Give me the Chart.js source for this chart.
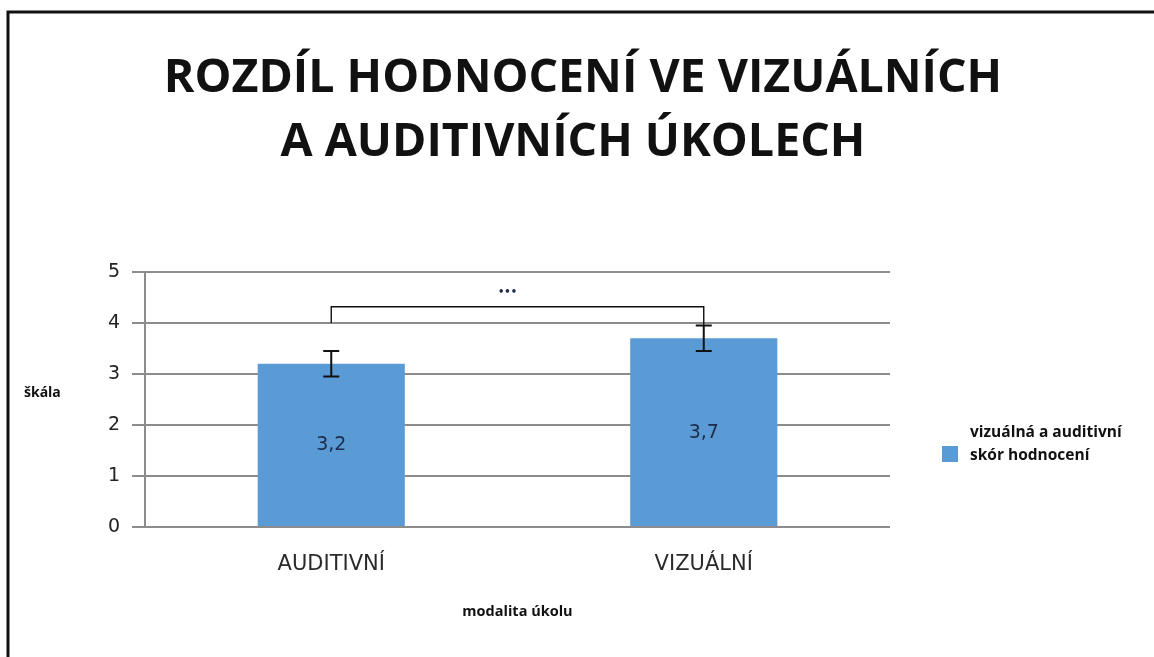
<!DOCTYPE html>
<html lang="cs">
<head>
<meta charset="utf-8">
<script src="https://cdn.jsdelivr.net/npm/chart.js@4.4.1/dist/chart.umd.min.js"></script>
<style>
  html, body { margin: 0; padding: 0; background: #fff; }
  #wrap { position: relative; width: 1154px; height: 657px; }
</style>
</head>
<body>
<div id="wrap"><canvas id="chart-hodnoceni"></canvas></div>
<script>
const categories = ['AUDITIVNÍ', 'VIZUÁLNÍ'];
const scores = [3.2, 3.7];
const errLow = [2.95, 3.45];
const errHigh = [3.45, 3.95];
const yTicks = [0, 1, 2, 3, 4, 5];
const bracketFeet = [4.0, 3.95];
const bracketTop = 4.32;
const titleLines = ['ROZDÍL HODNOCENÍ VE VIZUÁLNÍCH', 'A AUDITIVNÍCH ÚKOLECH'];
const legendLines = ['vizuálná a auditivní', 'skór hodnocení'];

const BAR_COLOR = '#5b9bd5';
const GRID_COLOR = '#8c8c8c';

// extra drawing: frame, title, legend, error bars, bracket, value labels
const annotations = {
  id: 'annotations',
  afterDatasetsDraw(chart) {
    const { ctx, scales: { x, y } } = chart;
    ctx.save();

    // frame (left + top only, like the screenshot)
    ctx.strokeStyle = '#111';
    ctx.lineWidth = 3;
    ctx.beginPath();
    ctx.moveTo(8, 657);
    ctx.lineTo(8, 12);
    ctx.lineTo(1154, 12);
    ctx.stroke();

    // title
    ctx.fillStyle = '#111';
    ctx.textAlign = 'center';
    ctx.textBaseline = 'alphabetic';
    ctx.font = 'bold 46.5px "Open Sans"';
    ctx.fillText(titleLines[0], 583, 92);
    ctx.fillText(titleLines[1], 573, 156);

    // y axis caption, horizontal
    ctx.font = 'bold 14px "Open Sans"';
    ctx.textAlign = 'left';
    ctx.textBaseline = 'middle';
    ctx.fillText('škála', 24, 393);

    // legend
    ctx.fillStyle = BAR_COLOR;
    ctx.fillRect(942, 446, 16, 16);
    ctx.fillStyle = '#111';
    ctx.font = 'bold 15.5px "Open Sans"';
    ctx.fillText(legendLines[0], 970, 433);
    ctx.fillText(legendLines[1], 970, 456);

    // value labels inside bars
    ctx.font = '19px "DejaVu Sans"';
    ctx.fillStyle = '#1c2b4a';
    ctx.textAlign = 'center';
    scores.forEach((v, i) => {
      ctx.fillText(v.toFixed(1).replace('.', ','), x.getPixelForValue(i), y.getPixelForValue(v / 2));
    });

    // error bars
    ctx.strokeStyle = '#111';
    ctx.lineWidth = 2;
    scores.forEach((v, i) => {
      const cx = x.getPixelForValue(i);
      const lo = y.getPixelForValue(errLow[i]);
      const hi = y.getPixelForValue(errHigh[i]);
      ctx.beginPath();
      ctx.moveTo(cx, lo); ctx.lineTo(cx, hi);
      ctx.moveTo(cx - 8, lo); ctx.lineTo(cx + 8, lo);
      ctx.moveTo(cx - 8, hi); ctx.lineTo(cx + 8, hi);
      ctx.stroke();
    });

    // significance bracket
    const x0 = x.getPixelForValue(0);
    const x1 = x.getPixelForValue(1);
    const top = y.getPixelForValue(bracketTop);
    ctx.lineWidth = 1.4;
    ctx.beginPath();
    ctx.moveTo(x0, y.getPixelForValue(bracketFeet[0]));
    ctx.lineTo(x0, top);
    ctx.lineTo(x1, top);
    ctx.lineTo(x1, y.getPixelForValue(bracketFeet[1]));
    ctx.stroke();
    ctx.font = 'bold 10px "DejaVu Sans"';
    ctx.fillText('•••', (x0 + x1) / 2 - 10, top - 14);

    ctx.restore();
  }
};

new Chart(document.getElementById('chart-hodnoceni'), {
  type: 'bar',
  data: {
    labels: categories,
    datasets: [{
      label: legendLines.join(' '),
      data: scores,
      backgroundColor: BAR_COLOR,
      borderWidth: 0,
      categoryPercentage: 1,
      barPercentage: 0.395
    }]
  },
  options: {
    responsive: true,
    maintainAspectRatio: false,
    animation: false,
    layout: { padding: { top: 272, right: 264, left: 0, bottom: 0 } },
    scales: {
      x: {
        grid: { display: false, drawTicks: false },
        border: { display: false },
        ticks: {
          color: '#2a2a2a',
          padding: 25,
          font: { family: '"DejaVu Sans"', size: 21 }
        },
        title: {
          display: true,
          text: 'modalita úkolu',
          color: '#111',
          font: { family: '"Open Sans"', size: 14.5, weight: 'bold' },
          padding: { top: 0, bottom: 36 }
        },
        afterFit: (scale) => { scale.height = 130; }
      },
      y: {
        min: 0,
        max: 5,
        afterBuildTicks: (scale) => { scale.ticks = yTicks.map(v => ({ value: v })); },
        grid: { color: GRID_COLOR, lineWidth: 2, tickLength: 13 },
        border: { display: true, color: GRID_COLOR, width: 2 },
        ticks: {
          color: '#222',
          padding: 12,
          font: { family: '"DejaVu Sans"', size: 19 }
        },
        afterFit: (scale) => { scale.width = 145; }
      }
    },
    plugins: {
      legend: { display: false },
      title: { display: false },
      tooltip: { enabled: false }
    }
  },
  plugins: [annotations]
});
</script>
</body>
</html>
